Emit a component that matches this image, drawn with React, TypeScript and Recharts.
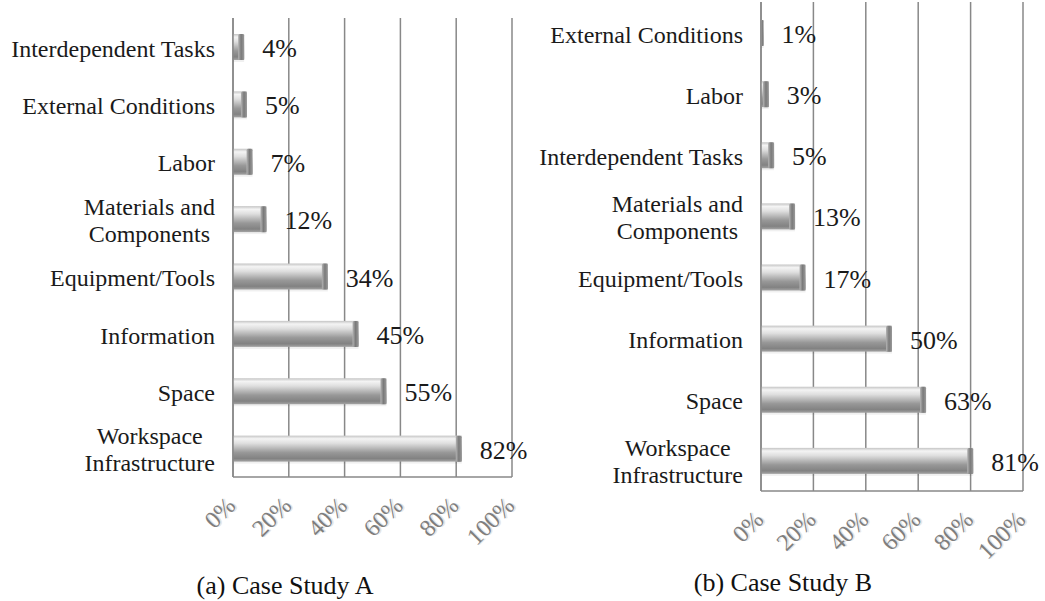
import React from "react";
import { Bar, BarChart, CartesianGrid, LabelList, XAxis, YAxis } from "recharts";

// case study A
const categoriesA = [
  "Interdependent Tasks",
  "External Conditions",
  "Labor",
  "Materials and\nComponents",
  "Equipment/Tools",
  "Information",
  "Space",
  "Workspace\nInfrastructure",
];
const valuesA = [4, 5, 7, 12, 34, 45, 55, 82];

// case study B
const categoriesB = [
  "External Conditions",
  "Labor",
  "Interdependent Tasks",
  "Materials and\nComponents",
  "Equipment/Tools",
  "Information",
  "Space",
  "Workspace\nInfrastructure",
];
const valuesB = [1, 3, 5, 13, 17, 50, 63, 81];

const pctTicks = [0, 20, 40, 60, 80, 100];
const captions = ["(a) Case Study A", "(b) Case Study B"];

const FONT = "'Liberation Serif', 'Times New Roman', Times, serif";
const GRID = "#888888";

let canvas: HTMLCanvasElement | null = null;
function textWidth(s: string, size: number) {
  if (!canvas) canvas = document.createElement("canvas");
  const ctx = canvas.getContext("2d")!;
  ctx.font = `${size}px 'Liberation Serif'`;
  return ctx.measureText(s).width;
}

function CategoryTick(props: any) {
  const { x, y, payload } = props;
  const lines = String(payload.value).split("\n");
  if (lines.length == 1) {
    return (
      <text x={x} y={y + 10} textAnchor="end" fontSize={24} fontFamily={FONT} fill="#1a1a1a">
        {lines[0]}
      </text>
    );
  }
  const w = Math.max(...lines.map((l) => textWidth(l, 24)));
  return (
    <g>
      {lines.map((l, i) => (
        <text key={i} x={x - w / 2} y={y - 4 + i * 27} textAnchor="middle" fontSize={24} fontFamily={FONT} fill="#1a1a1a">
          {l}
        </text>
      ))}
    </g>
  );
}

function PctTick(props: any) {
  const { x, y, payload } = props;
  return (
    <g transform={`translate(${x + 4},${y + 30}) rotate(-45)`}>
      <text x={1.2} y={1.2} textAnchor="end" fontSize={24} fontFamily={FONT} fill="#e4e4e4">
        {payload.value}%
      </text>
      <text x={0} y={0} textAnchor="end" fontSize={24} fontFamily={FONT} fill="#7e7e7e">
        {payload.value}%
      </text>
    </g>
  );
}

function GlossyBar(props: any) {
  const { x, y, width, height } = props;
  if (width <= 0) return null;
  const cap = Math.min(6, width);
  return (
    <g>
      <rect x={x} y={y + 2} width={width} height={height} fill="#000" opacity={0.06} />
      <rect x={x} y={y} width={width} height={height} fill="url(#barGrad)" />
      <rect x={x + width - cap} y={y} width={cap} height={height} fill="url(#capGrad)" rx={1.5} />
    </g>
  );
}

function ValueLabel(props: any) {
  const { x, y, width, height, value } = props;
  return (
    <text x={x + width + 18} y={y + height / 2 + 10} fontSize={26} fontFamily={FONT} fill="#1a1a1a">
      {value}%
    </text>
  );
}

type PanelProps = {
  cats: string[];
  vals: number[];
  width: number;
  height: number;
  margin: { top: number; right: number; bottom: number; left: number };
  yWidth: number;
  xHeight: number;
};

function Panel(p: PanelProps) {
  const data = p.cats.map((c, i) => ({ name: c, value: p.vals[i] }));
  return (
    <BarChart layout="vertical" width={p.width} height={p.height} data={data} margin={p.margin} barCategoryGap={0}>
      <CartesianGrid horizontal={false} stroke={GRID} strokeWidth={1.5} />
      <XAxis
        type="number"
        domain={[0, 100]}
        ticks={pctTicks}
        height={p.xHeight}
        tickSize={0}
        tickMargin={0}
        tickLine={false}
        axisLine={{ stroke: GRID, strokeWidth: 1.5 }}
        tick={<PctTick />}
        interval={0}
      />
      <YAxis
        type="category"
        dataKey="name"
        width={p.yWidth}
        tickSize={0}
        tickMargin={18}
        tickLine={false}
        axisLine={{ stroke: GRID, strokeWidth: 1.5 }}
        tick={<CategoryTick />}
        interval={0}
      />
      <Bar dataKey="value" barSize={26} shape={<GlossyBar />} isAnimationActive={false}>
        <LabelList dataKey="value" content={<ValueLabel />} />
      </Bar>
    </BarChart>
  );
}

export default function App() {
  return (
    <div style={{ position: "absolute", left: 0, top: 0, width: 1045, height: 601, background: "#fff", fontFamily: FONT }}>
      <svg width={0} height={0} style={{ position: "absolute" }}>
        <defs>
          <linearGradient id="barGrad" x1="0" y1="0" x2="0" y2="1">
            <stop offset="0" stopColor="#c4c4c4" />
            <stop offset="0.12" stopColor="#f4f4f4" />
            <stop offset="0.3" stopColor="#dedede" />
            <stop offset="0.65" stopColor="#989898" />
            <stop offset="0.88" stopColor="#828282" />
            <stop offset="1" stopColor="#a4a4a4" />
          </linearGradient>
          <linearGradient id="capGrad" x1="0" y1="0" x2="1" y2="0">
            <stop offset="0" stopColor="#b4b4b4" />
            <stop offset="0.5" stopColor="#7a7a7a" />
            <stop offset="1" stopColor="#9a9a9a" />
          </linearGradient>
        </defs>
      </svg>
      <div style={{ position: "absolute", left: 0, top: 0, width: 540, height: 600 }}>
        <Panel
          cats={categoriesA}
          vals={valuesA}
          width={540}
          height={600}
          margin={{ top: 18, right: 28, bottom: 63, left: 0 }}
          yWidth={233}
          xHeight={60}
        />
      </div>
      <div style={{ position: "absolute", left: 520, top: 0, width: 525, height: 600 }}>
        <Panel
          cats={categoriesB}
          vals={valuesB}
          width={525}
          height={600}
          margin={{ top: 2, right: 22, bottom: 59, left: 0 }}
          yWidth={241}
          xHeight={50}
        />
      </div>
      <div style={{ position: "absolute", left: 135, top: 571, width: 300, height: 30, lineHeight: "30px", textAlign: "center", fontSize: 26, color: "#111" }}>
        {captions[0]}
      </div>
      <div style={{ position: "absolute", left: 633, top: 568, width: 300, height: 30, lineHeight: "30px", textAlign: "center", fontSize: 26, color: "#111" }}>
        {captions[1]}
      </div>
    </div>
  );
}
